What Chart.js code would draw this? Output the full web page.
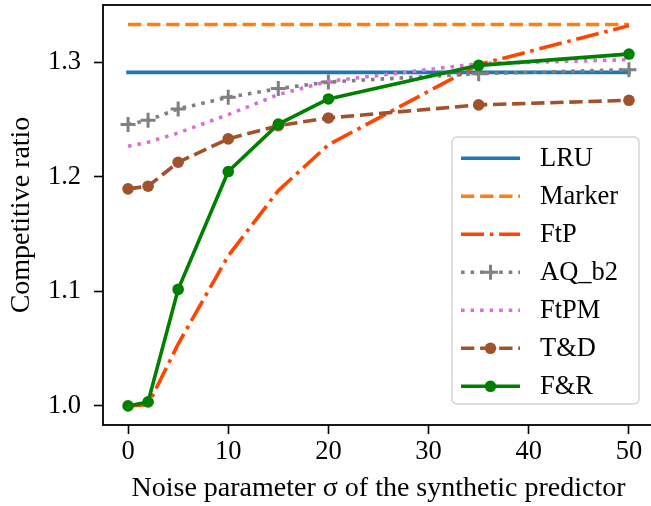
<!DOCTYPE html>
<html><head><meta charset="utf-8">
<script src="https://cdn.jsdelivr.net/npm/chart.js@4.4.1/dist/chart.umd.min.js"></script>
<style>html,body{margin:0;padding:0;overflow:hidden;background:#fff;width:651px;height:506px}</style>
</head><body>
<canvas id="c" width="660" height="506" style="display:block;width:660px;height:506px"></canvas>
<script>
// ---- data ----
const sigma = [0, 2, 5, 10, 15, 20, 35, 50];
const lruVals    = [1.2912, 1.2912, 1.2912, 1.2912, 1.2912, 1.2912, 1.2912, 1.2912];
const markerVals = [1.3330, 1.3330, 1.3330, 1.3330, 1.3330, 1.3330, 1.3330, 1.3330];
const ftpVals    = [1.000, 1.001, 1.054, 1.131, 1.188, 1.228, 1.298, 1.332];
const aqVals     = [1.2456, 1.2494, 1.2593, 1.2694, 1.2770, 1.2828, 1.2900, 1.2935];
const ftpmVals   = [1.2267, 1.2302, 1.2383, 1.2543, 1.2718, 1.2834, 1.2988, 1.3023];
const tdVals     = [1.1895, 1.1918, 1.2127, 1.2331, 1.2447, 1.2514, 1.2628, 1.2668];
const frVals     = [1.0000, 1.0035, 1.1017, 1.2046, 1.2460, 1.2680, 1.2973, 1.3072];
const seriesNames = ['LRU', 'Marker', 'FtP', 'AQ_b2', 'FtPM', 'T&D', 'F&R'];
const xTicks = [0, 10, 20, 30, 40, 50];
const yTicks = [1.0, 1.1, 1.2, 1.3];
const xLabel = 'Noise parameter \u03C3 of the synthetic predictor';
const yLabel = 'Competitive ratio';

// ---- styling ----
const FONT = "'Liberation Serif', 'Times New Roman', 'DejaVu Serif', serif";
const FS = 26.5;
const FT = 28;
const LW = 3.6;
const MR = 5.8;
const pts = vals => sigma.map((x, i) => ({x: x, y: vals[i]}));
const base = {fill: false, tension: 0, borderWidth: LW, borderJoinStyle: 'round', pointRadius: 0, pointHoverRadius: 0};

const datasets = [
  Object.assign({}, base, {label: seriesNames[0], data: pts(lruVals), borderColor: '#1f77b4', borderCapStyle: 'square', borderDash: []}),
  Object.assign({}, base, {label: seriesNames[1], data: pts(markerVals), borderColor: '#ff7f0e', borderCapStyle: 'butt', borderDash: [3.7*LW, 1.6*LW]}),
  Object.assign({}, base, {label: seriesNames[2], data: pts(ftpVals), borderColor: '#ff4500', borderCapStyle: 'butt', borderDash: [6.4*LW, 1.6*LW, 1*LW, 1.6*LW]}),
  Object.assign({}, base, {label: seriesNames[3], data: pts(aqVals), borderColor: '#808080', borderCapStyle: 'butt', borderDash: [1*LW, 1.65*LW],
      pointStyle: 'cross', pointRadius: 7.5, pointBorderWidth: 3, pointBorderColor: '#808080', pointBackgroundColor: '#808080'}),
  Object.assign({}, base, {label: seriesNames[4], data: pts(ftpmVals), borderColor: '#da70d6', borderCapStyle: 'butt', borderDash: [1*LW, 1.65*LW]}),
  Object.assign({}, base, {label: seriesNames[5], data: pts(tdVals), borderColor: '#a0522d', borderCapStyle: 'butt', borderDash: [3.7*LW, 1.6*LW],
      pointStyle: 'circle', pointRadius: MR, pointBorderWidth: 0, pointBorderColor: '#a0522d', pointBackgroundColor: '#a0522d'}),
  Object.assign({}, base, {label: seriesNames[6], data: pts(frVals), borderColor: '#008000', borderCapStyle: 'square', borderDash: [],
      pointStyle: 'circle', pointRadius: MR, pointBorderWidth: 0, pointBorderColor: '#008000', pointBackgroundColor: '#008000'})
];
// later series on top, as in the reference
datasets.forEach((d, i) => { d.order = datasets.length - i; });

const framePlugin = {
  id: 'frame',
  afterDatasetsDraw(chart) {
    const {ctx, chartArea: a} = chart;
    ctx.save();
    ctx.strokeStyle = '#000';
    ctx.lineWidth = 1.8;
    ctx.lineCap = 'square';
    ctx.strokeRect(a.left, a.top, a.right - a.left, a.bottom - a.top);
    ctx.restore();
  }
};

const legendPlugin = {
  id: 'mplLegend',
  afterDraw(chart) {
    const ctx = chart.ctx;
    const bx = 452, by = 137, bw = 187, bh = 267, r = 5;
    ctx.save();
    ctx.beginPath();
    if (ctx.roundRect) ctx.roundRect(bx, by, bw, bh, r); else ctx.rect(bx, by, bw, bh);
    ctx.fillStyle = 'rgba(255,255,255,0.8)';
    ctx.fill();
    ctx.lineWidth = 1.4;
    ctx.strokeStyle = '#d3d3d3';
    ctx.stroke();
    chart.data.datasets.forEach((ds, i) => {
      const y = 158.3 + i * 38.0;
      ctx.save();
      ctx.beginPath();
      ctx.setLineDash(ds.borderDash || []);
      ctx.lineCap = 'butt';
      ctx.lineWidth = ds.borderWidth;
      ctx.strokeStyle = ds.borderColor;
      ctx.moveTo(461, y); ctx.lineTo(520, y);
      ctx.stroke();
      ctx.restore();
      if (ds.pointRadius > 0) {
        ctx.save();
        ctx.setLineDash([]);
        ctx.fillStyle = ds.pointBackgroundColor;
        ctx.strokeStyle = ds.pointBorderColor;
        ctx.lineWidth = ds.pointBorderWidth;
        Chart.helpers.drawPoint(ctx, {pointStyle: ds.pointStyle, radius: ds.pointRadius, borderWidth: ds.pointBorderWidth, rotation: 0}, 490.5, y);
        ctx.restore();
      }
      ctx.fillStyle = '#000';
      ctx.font = FS + 'px ' + FONT;
      ctx.textBaseline = 'middle';
      ctx.textAlign = 'left';
      ctx.fillText(ds.label, 540, y + 1);
    });
    ctx.restore();
  }
};

new Chart(document.getElementById('c'), {
  type: 'line',
  data: {datasets: datasets},
  plugins: [framePlugin, legendPlugin],
  options: {
    responsive: false,
    animation: false,
    devicePixelRatio: 1,
    layout: {autoPadding: false, padding: {left: 0, right: 6, top: 5, bottom: 0}},
    plugins: {legend: {display: false}, tooltip: {enabled: false}},
    events: [],
    scales: {
      x: {
        type: 'linear', min: -2.5, max: 52.5,
        afterBuildTicks: s => { s.ticks = xTicks.map(v => ({value: v})); },
        afterFit: s => { s.height = 81; s.paddingLeft = 0; s.paddingRight = 0; },
        grid: {display: true, drawOnChartArea: false, drawTicks: true, tickLength: 9, tickColor: '#000', tickWidth: 1.6},
        border: {display: false},
        ticks: {color: '#000', font: {family: FONT, size: FS}, padding: 2, maxRotation: 0, autoSkip: false, callback: v => String(v)},
        title: {display: true, text: xLabel, color: '#000', font: {family: FONT, size: FT}, padding: {top: 0, bottom: 1}}
      },
      y: {
        type: 'linear', min: 0.98333, max: 1.35,
        afterBuildTicks: s => { s.ticks = yTicks.map(v => ({value: v})); },
        afterFit: s => { s.width = 103; s.paddingTop = 0; s.paddingBottom = 0; },
        grid: {display: true, drawOnChartArea: false, drawTicks: true, tickLength: 9, tickColor: '#000', tickWidth: 1.6},
        border: {display: false},
        ticks: {color: '#000', font: {family: FONT, size: FS}, padding: 13, autoSkip: false, callback: v => Number(v).toFixed(1)},
        title: {display: true, text: yLabel, color: '#000', font: {family: FONT, size: FT}, padding: {top: 5, bottom: 0}}
      }
    }
  }
});
</script>
</body></html>
